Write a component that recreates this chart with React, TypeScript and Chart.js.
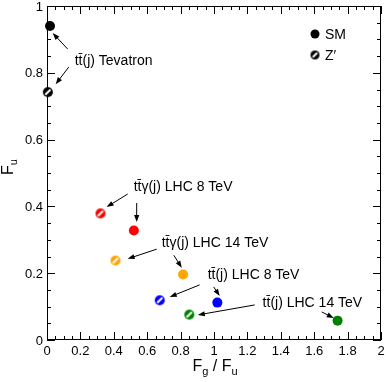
import React, { useEffect, useRef } from "react";
import { Chart, registerables } from "chart.js";

Chart.register(...registerables);

// ---------- data ----------
const seriesNames = ["SM", "Z\u2032"];
const processes = [
  "tt\u0304(j) Tevatron",
  "tt\u0304\u03b3(j) LHC 8 TeV",
  "tt\u0304\u03b3(j) LHC 14 TeV",
  "tt\u0304(j) LHC 8 TeV",
  "tt\u0304(j) LHC 14 TeV",
];
const processColors = ["#000000", "#ff0000", "#ffa500", "#0000ff", "#008000"];
const smRatio = [0.018, 0.52, 0.815, 1.02, 1.74];
const smFu = [0.94, 0.328, 0.196, 0.112, 0.058];
const zpRatio = [0.005, 0.32, 0.41, 0.675, 0.852];
const zpFu = [0.742, 0.379, 0.238, 0.119, 0.076];
const xTickLabels = ["0", "0.2", "0.4", "0.6", "0.8", "1", "1.2", "1.4", "1.6", "1.8", "2"];
const yTickLabels = ["0", "0.2", "0.4", "0.6", "0.8", "1"];

// ---------- annotation layout (data coordinates) ----------
const labelAnchors: [number, number][] = [
  [0.166, 0.835],
  [0.519, 0.458],
  [0.687, 0.29],
  [0.962, 0.195],
  [1.291, 0.111],
];
const arrowsSM: [number, number, number, number][] = [
  [0.124, 0.871, 0.034, 0.919],
  [0.537, 0.41, 0.537, 0.353],
  [0.759, 0.254, 0.807, 0.216],
  [0.998, 0.159, 1.034, 0.132],
  [1.645, 0.084, 1.717, 0.066],
];
const arrowsZp: [number, number, number, number][] = [
  [0.13, 0.817, 0.052, 0.766],
  [0.483, 0.437, 0.357, 0.398],
  [0.657, 0.272, 0.483, 0.243],
  [0.914, 0.165, 0.735, 0.129],
  [1.244, 0.105, 0.903, 0.075],
];

const FONT = '"Liberation Sans", Arial, Helvetica, sans-serif';
const R = 5;

function hatched(color: string, r: number) {
  const c = document.createElement("canvas");
  const s = r * 2 + 2;
  c.width = s;
  c.height = s;
  const g = c.getContext("2d")!;
  const m = s / 2;
  g.beginPath();
  g.arc(m, m, r, 0, Math.PI * 2);
  g.fillStyle = color;
  g.fill();
  g.save();
  g.beginPath();
  g.arc(m, m, r - 1.4, 0, Math.PI * 2);
  g.clip();
  g.strokeStyle = "#ffffff";
  g.lineWidth = 2;
  g.beginPath();
  g.moveTo(m - r, m + r);
  g.lineTo(m + r, m - r);
  g.stroke();
  g.restore();
  return c;
}

function arrow(ctx: CanvasRenderingContext2D, x1: number, y1: number, x2: number, y2: number) {
  const a = Math.atan2(y2 - y1, x2 - x1);
  const hl = 7;
  const hw = 2.6;
  ctx.beginPath();
  ctx.moveTo(x1, y1);
  ctx.lineTo(x2 - Math.cos(a) * hl * 0.8, y2 - Math.sin(a) * hl * 0.8);
  ctx.stroke();
  ctx.beginPath();
  ctx.moveTo(x2, y2);
  ctx.lineTo(x2 - Math.cos(a) * hl - Math.sin(a) * hw, y2 - Math.sin(a) * hl + Math.cos(a) * hw);
  ctx.lineTo(x2 - Math.cos(a) * hl + Math.sin(a) * hw, y2 - Math.sin(a) * hl - Math.cos(a) * hw);
  ctx.closePath();
  ctx.fill();
}

const framePlugin = {
  id: "framePlugin",
  beforeDatasetsDraw(chart: any) {
    const { ctx, chartArea } = chart;
    const xs = chart.scales.x;
    const ys = chart.scales.y;
    const { left, right, top, bottom } = chartArea;
    ctx.save();
    ctx.strokeStyle = "#000";
    ctx.lineWidth = 1;
    ctx.strokeRect(Math.round(left) + 0.5, Math.round(top) + 0.5, Math.round(right - left) - 1, Math.round(bottom - top) - 1);
    for (let i = 0; i <= 40; i++) {
      const v = i * 0.05;
      const px = Math.round(xs.getPixelForValue(v)) + 0.5;
      const len = i % 4 === 0 ? 8 : 4;
      ctx.beginPath();
      ctx.moveTo(px, bottom);
      ctx.lineTo(px, bottom - len);
      ctx.moveTo(px, top);
      ctx.lineTo(px, top + len);
      ctx.stroke();
    }
    for (let i = 0; i <= 20; i++) {
      const v = i * 0.05;
      const py = Math.round(ys.getPixelForValue(v)) + 0.5;
      const len = i % 4 === 0 ? 8 : 4;
      ctx.beginPath();
      ctx.moveTo(left, py);
      ctx.lineTo(left + len, py);
      ctx.moveTo(right, py);
      ctx.lineTo(right - len, py);
      ctx.stroke();
    }
    ctx.fillStyle = "#000";
    ctx.font = `13px ${FONT}`;
    ctx.textAlign = "center";
    ctx.textBaseline = "alphabetic";
    xTickLabels.forEach((t) => {
      const px = xs.getPixelForValue(parseFloat(t));
      ctx.fillText(t, px, bottom + 15);
    });
    ctx.textAlign = "right";
    yTickLabels.forEach((t) => {
      const py = ys.getPixelForValue(parseFloat(t));
      ctx.fillText(t, left - 4, py + 4.6);
    });
    const big = `16px ${FONT}`;
    const small = `11px ${FONT}`;
    const parts: [string, string, number][] = [
      ["F", big, 0],
      ["g", small, 4],
      [" / ", big, 0],
      ["F", big, 0],
      ["u", small, 4],
    ];
    let total = 0;
    parts.forEach(([s, f]) => {
      ctx.font = f;
      total += ctx.measureText(s).width;
    });
    let x0 = (left + right) / 2 - total / 2 + 1;
    ctx.textAlign = "left";
    parts.forEach(([s, f, dy]) => {
      ctx.font = f;
      ctx.fillText(s, x0, bottom + 31 + dy);
      x0 += ctx.measureText(s).width;
    });
    ctx.save();
    ctx.translate(13, (top + bottom) / 2 - 6);
    ctx.rotate(-Math.PI / 2);
    ctx.font = big;
    const wF = ctx.measureText("F").width;
    ctx.font = small;
    const wu = ctx.measureText("u").width;
    const sx = -(wF + wu) / 2;
    ctx.font = big;
    ctx.fillText("F", sx, 0);
    ctx.font = small;
    ctx.fillText("u", sx + wF, 4);
    ctx.restore();
    ctx.restore();
  },
  afterDatasetsDraw(chart: any) {
    const { ctx, chartArea } = chart;
    const xs = chart.scales.x;
    const ys = chart.scales.y;
    ctx.save();
    ctx.fillStyle = "#000";
    ctx.strokeStyle = "#000";
    ctx.lineWidth = 1;
    ctx.font = `14px ${FONT}`;
    ctx.textAlign = "left";
    ctx.textBaseline = "middle";
    processes.forEach((p, i) => {
      const [lx, ly] = labelAnchors[i];
      ctx.fillText(p, xs.getPixelForValue(lx), ys.getPixelForValue(ly));
      const a = arrowsSM[i];
      arrow(ctx, xs.getPixelForValue(a[0]), ys.getPixelForValue(a[1]), xs.getPixelForValue(a[2]), ys.getPixelForValue(a[3]));
      const b = arrowsZp[i];
      arrow(ctx, xs.getPixelForValue(b[0]), ys.getPixelForValue(b[1]), xs.getPixelForValue(b[2]), ys.getPixelForValue(b[3]));
    });
    const lx = chartArea.right - 66;
    const ly1 = chartArea.top + 28;
    const ly2 = chartArea.top + 49;
    ctx.beginPath();
    ctx.arc(lx, ly1, 4.5, 0, Math.PI * 2);
    ctx.fill();
    const img = hatched("#000000", 4.5);
    ctx.drawImage(img, lx - img.width / 2, ly2 - img.height / 2);
    ctx.fillText(seriesNames[0], lx + 10, ly1 + 1);
    ctx.fillText(seriesNames[1], lx + 10, ly2 + 1);
    ctx.restore();
  },
};

export default function App() {
  const ref = useRef<HTMLCanvasElement | null>(null);
  useEffect(() => {
    if (!ref.current) return;
    const zpStyles = processColors.map((c) => hatched(c, R));
    const chart = new Chart(ref.current, {
      type: "scatter",
      data: {
        datasets: [
          {
            label: seriesNames[0],
            data: smRatio.map((x, i) => ({ x, y: smFu[i] })),
            pointStyle: "circle",
            pointRadius: R,
            pointBackgroundColor: processColors,
            pointBorderWidth: 0,
            clip: false as any,
          },
          {
            label: seriesNames[1],
            data: zpRatio.map((x, i) => ({ x, y: zpFu[i] })),
            pointStyle: ((c: any) => zpStyles[c.dataIndex]) as any,
            pointRadius: R,
            pointBackgroundColor: processColors,
            pointBorderWidth: 0,
            clip: false as any,
          },
        ],
      },
      options: {
        responsive: false,
        animation: false,
        events: [],
        layout: { padding: { top: 6, right: 5, left: 0, bottom: 0 } },
        plugins: { legend: { display: false }, tooltip: { enabled: false } },
        scales: {
          x: {
            type: "linear",
            min: 0,
            max: 2,
            ticks: { display: false },
            grid: { display: false, drawTicks: false },
            border: { display: false },
            afterFit: (s: any) => {
              s.height = 42;
            },
          },
          y: {
            type: "linear",
            min: 0,
            max: 1,
            ticks: { display: false },
            grid: { display: false, drawTicks: false },
            border: { display: false },
            afterFit: (s: any) => {
              s.width = 47;
            },
          },
        },
      },
      plugins: [framePlugin],
    });
    return () => chart.destroy();
  }, []);
  return (
    <div style={{ position: "absolute", left: 0, top: 0, width: 386, height: 382, background: "#fff" }}>
      <canvas ref={ref} width={386} height={382} style={{ display: "block" }} />
    </div>
  );
}
